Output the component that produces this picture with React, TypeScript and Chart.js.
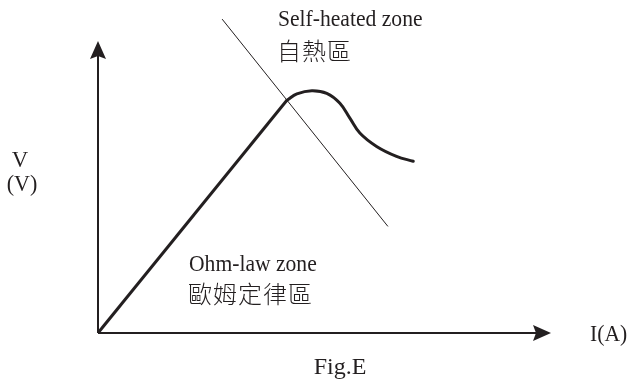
import React, { useEffect, useRef } from "react";
import { Chart, registerables } from "chart.js";

Chart.register(...registerables);

// ---- data (current I, voltage V in arbitrary units) ----
const X_MAX = 10;
const Y_MAX = 10;
const OHM_I = [0, 4.17];
const OHM_V = [0, 7.97];
const HEAT_I = [4.17, 4.39, 4.72, 5.05, 5.34, 5.56, 5.78, 6.15, 6.59, 6.96];
const HEAT_V = [7.97, 8.19, 8.3, 8.21, 7.87, 7.36, 6.85, 6.39, 6.05, 5.88];
const BOUNDARY_I = [2.74, 6.4];
const BOUNDARY_V = [10.75, 3.65];

const LABEL_SELF = "Self-heated zone";
const LABEL_SELF_ZH = "自熱區";
const LABEL_OHM = "Ohm-law zone";
const LABEL_OHM_ZH = "歐姆定律區";
const LABEL_Y1 = "V";
const LABEL_Y2 = "(V)";
const LABEL_X = "I(A)";
const LABEL_FIG = "Fig.E";

const INK = "#231f20";

const pts = (xs: number[], ys: number[]) => xs.map((x, i) => ({ x, y: ys[i] }));

function condensed(ctx: CanvasRenderingContext2D, text: string, x: number, y: number, sx: number) {
  ctx.save();
  ctx.translate(x, y);
  ctx.scale(sx, 1);
  ctx.fillText(text, 0, 0);
  ctx.restore();
}

const drawPlugin = {
  id: "schematic",
  afterDatasetsDraw(chart: any) {
    const ctx: CanvasRenderingContext2D = chart.ctx;
    const xs = chart.scales.x;
    const ys = chart.scales.y;
    const ox = xs.getPixelForValue(0);
    const oy = ys.getPixelForValue(0);
    const tx = xs.getPixelForValue(X_MAX);
    const ty = ys.getPixelForValue(Y_MAX);
    ctx.save();
    ctx.strokeStyle = INK;
    ctx.fillStyle = INK;
    ctx.lineWidth = 2;
    // axes
    ctx.beginPath();
    ctx.moveTo(ox, oy);
    ctx.lineTo(tx - 10, oy);
    ctx.moveTo(ox, oy);
    ctx.lineTo(ox, ty + 10);
    ctx.stroke();
    // x arrow
    const L = 18, W = 8, N = 3;
    ctx.beginPath();
    ctx.moveTo(tx, oy);
    ctx.lineTo(tx - L, oy - W);
    ctx.lineTo(tx - L + N, oy);
    ctx.lineTo(tx - L, oy + W);
    ctx.closePath();
    ctx.fill();
    // y arrow
    ctx.beginPath();
    ctx.moveTo(ox, ty);
    ctx.lineTo(ox - W, ty + L);
    ctx.lineTo(ox, ty + L - N);
    ctx.lineTo(ox + W, ty + L);
    ctx.closePath();
    ctx.fill();

    // texts
    const latin = "24px 'Liberation Serif', 'Times New Roman', serif";
    const cjk = "300 24px 'Noto Sans CJK TC', 'Noto Sans CJK SC', sans-serif";
    ctx.textBaseline = "alphabetic";
    ctx.fillStyle = INK;
    ctx.font = latin;
    ctx.textAlign = "left";
    condensed(ctx, LABEL_SELF, 278, 26, 0.9);
    condensed(ctx, LABEL_OHM, 189, 271, 0.9);
    condensed(ctx, LABEL_X, 590, 341, 0.9);
    ctx.textAlign = "center";
    condensed(ctx, LABEL_Y1, 20, 167, 0.95);
    condensed(ctx, LABEL_Y2, 22, 191, 0.92);
    condensed(ctx, LABEL_FIG, 340, 374, 1.0);
    ctx.textAlign = "left";
    ctx.font = cjk;
    (ctx as any).letterSpacing = "1px";
    ctx.textBaseline = "middle";
    ctx.fillText(LABEL_SELF_ZH, 277, 51);
    ctx.fillText(LABEL_OHM_ZH, 188, 294);
    (ctx as any).letterSpacing = "0px";
    ctx.restore();
  },
};

export default function App() {
  const ref = useRef<HTMLCanvasElement>(null);
  useEffect(() => {
    if (!ref.current) return;
    const chart = new Chart(ref.current, {
      type: "scatter",
      data: {
        datasets: [
          {
            data: pts(OHM_I, OHM_V),
            showLine: true,
            borderColor: INK,
            borderWidth: 3,
            pointRadius: 0,
            tension: 0,
          },
          {
            data: pts(HEAT_I, HEAT_V),
            showLine: true,
            borderColor: INK,
            borderWidth: 3,
            pointRadius: 0,
            tension: 0.4,
            borderCapStyle: "round",
          },
          {
            data: pts(BOUNDARY_I, BOUNDARY_V),
            showLine: true,
            borderColor: INK,
            borderWidth: 1,
            pointRadius: 0,
            tension: 0,
            clip: false,
          } as any,
        ],
      },
      options: {
        responsive: false,
        animation: false,
        devicePixelRatio: 1,
        layout: { padding: { left: 98, right: 77, top: 41, bottom: 52 } },
        plugins: { legend: { display: false }, tooltip: { enabled: false } },
        scales: {
          x: { type: "linear", min: 0, max: X_MAX, display: false },
          y: { type: "linear", min: 0, max: Y_MAX, display: false },
        },
      },
      plugins: [drawPlugin],
    });
    return () => chart.destroy();
  }, []);
  return (
    <div style={{ position: "fixed", left: 0, top: 0, width: 628, height: 385, background: "#fff" }}>
      <canvas ref={ref} width={628} height={385} />
    </div>
  );
}
